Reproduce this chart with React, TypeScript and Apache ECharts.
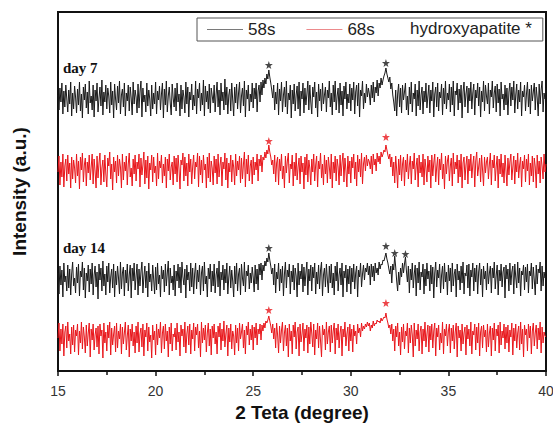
import React, { useEffect, useRef } from "react";
import * as echarts from "echarts";

// 2θ sampling of the patterns (degrees)
const xStart = 15;
const xStep = 0.05;

// Intensities (a.u.), one value per 0.05° from 15° to 40° (20 values per degree)
const day7_58s = [
  45,30,52,38,57,26,49,33,55,41,28,50,36,58,24,47,31,54,43,27,
  51,35,58,29,46,22,53,40,56,32,48,26,59,37,44,30,55,23,50,39,
  57,28,42,53,34,60,25,48,38,55,31,52,44,27,58,35,49,22,56,41,
  30,54,37,59,26,45,51,33,57,24,47,39,55,29,53,42,25,58,36,50,
  43,27,56,32,48,59,23,52,38,45,28,57,34,50,41,24,55,31,47,36,
  58,26,49,40,54,30,46,57,22,51,35,59,28,44,53,37,25,56,42,33,
  52,29,57,38,46,24,55,31,50,43,27,58,36,53,23,48,40,56,30,45,
  34,59,26,51,42,57,29,47,35,60,24,54,38,49,31,56,27,52,44,37,
  55,28,46,58,33,50,25,57,39,48,30,61,35,53,26,45,51,29,57,40,
  24,53,37,56,31,47,58,27,44,52,34,59,23,50,41,55,29,46,38,57,
  32,52,41,57,28,49,55,38,58,45,60,52,62,56,66,61,70,63,57,50,
  42,55,30,48,36,57,25,51,39,58,28,45,53,33,59,26,47,40,55,22,
  50,36,56,29,45,54,31,58,24,49,41,57,27,52,35,46,59,30,55,38,
  26,53,43,58,32,48,23,56,39,51,29,57,36,45,53,28,50,42,59,33,
  47,25,55,38,59,30,44,52,27,57,35,49,24,54,41,58,31,46,37,56,
  29,52,40,58,26,48,55,34,57,23,50,44,59,31,47,37,56,43,52,46,
  35,55,42,58,38,53,47,60,44,57,52,62,55,60,64,67,72,66,62,58,
  63,51,57,45,38,29,50,24,46,56,33,52,27,55,40,48,57,30,44,25,
  53,36,58,28,47,41,56,24,50,34,59,30,45,53,26,49,38,57,32,44,
  55,27,50,39,58,23,46,53,33,57,29,48,42,56,25,52,36,59,31,47,
  40,56,28,53,35,59,24,49,45,57,30,51,37,55,22,48,58,33,46,54,
  27,52,39,58,31,47,56,25,50,42,57,34,53,23,49,38,59,29,55,44,
  36,57,26,50,43,59,32,47,54,28,56,37,51,24,58,41,46,30,55,35,
  52,25,48,57,34,53,40,59,27,45,56,31,50,38,58,24,49,43,55,29,
  46,58,33,51,26,55,39,48,57,30,53,42,24,56,36,50,59,28,47,41,
  52,
];

const day7_68s = [
  40,56,27,50,35,58,25,46,53,31,57,38,49,24,55,33,52,44,29,58,
  36,51,23,55,42,59,30,47,54,26,50,39,57,32,45,58,28,53,41,24,
  56,34,49,59,27,44,52,30,57,38,25,54,46,60,33,48,22,55,40,51,
  29,57,36,53,45,24,58,32,50,41,56,27,48,59,35,44,26,53,38,57,
  31,50,43,58,25,54,37,47,60,28,52,34,56,23,49,42,57,30,55,39,
  46,26,59,33,51,44,57,29,48,36,55,24,53,41,58,32,45,50,27,56,
  38,54,30,57,43,23,52,47,59,31,55,36,49,26,58,40,53,28,46,57,
  33,50,45,59,25,56,37,52,29,57,42,48,24,55,34,59,30,51,44,27,
  56,39,53,28,58,35,47,55,26,50,43,59,32,54,24,49,40,57,30,52,
  45,27,58,36,51,42,56,29,54,33,48,60,25,53,38,57,31,46,52,28,
  55,37,50,42,58,31,53,46,57,40,55,52,60,54,62,58,67,60,55,47,
  52,38,57,30,49,55,27,53,41,58,33,46,24,56,39,51,59,29,48,43,
  57,26,50,36,59,32,45,54,28,56,40,49,23,55,37,58,30,52,44,27,
  53,40,58,31,47,56,25,51,43,59,34,48,27,57,38,52,29,55,45,33,
  58,24,50,39,56,31,53,45,27,57,36,49,59,30,54,42,25,56,38,51,
  29,55,44,58,33,50,26,57,40,53,35,59,28,48,55,41,57,46,53,50,
  43,56,38,58,47,53,41,59,50,56,48,60,55,58,62,60,67,62,57,53,
  58,45,55,36,50,29,56,42,24,53,37,57,31,48,55,26,52,40,58,33,
  47,56,28,51,43,59,32,46,54,25,57,39,50,35,58,27,53,44,30,56,
  40,52,24,57,36,49,58,30,45,55,27,53,42,59,33,48,23,56,38,51,
  57,31,46,54,26,59,38,50,43,57,29,52,35,58,24,49,55,32,47,56,
  28,53,41,58,34,47,56,25,51,60,36,45,54,30,57,42,26,55,39,50,
  55,33,48,59,27,52,44,57,31,46,56,24,53,38,58,35,49,29,57,42,
  26,54,37,50,58,32,45,56,28,52,40,59,34,47,55,25,51,43,57,30,
  53,41,58,27,49,36,56,30,54,45,24,57,38,51,29,55,46,33,58,40,
  48,
];

const day14_58s = [
  48,27,55,36,51,24,58,39,45,30,56,33,52,26,47,59,35,43,28,54,
  38,57,25,50,44,59,31,53,23,48,40,56,29,52,37,58,26,46,55,34,
  49,22,57,41,53,30,60,35,47,26,55,39,58,28,44,52,33,57,24,50,
  36,55,43,27,59,32,48,54,25,51,38,57,30,46,56,23,53,40,58,31,
  45,57,26,52,35,49,59,28,44,55,33,50,24,58,39,47,30,56,42,27,
  54,31,58,37,46,24,55,42,51,29,57,35,48,60,26,53,38,45,31,56,
  25,50,40,57,33,54,28,59,44,36,52,23,56,41,49,30,58,34,53,27,
  47,58,32,51,39,56,26,48,55,30,59,37,45,24,53,42,57,29,50,35,
  57,28,46,53,34,60,25,49,41,56,31,52,38,58,27,44,55,33,51,40,
  24,55,37,58,30,47,53,26,57,43,35,59,29,50,45,56,32,48,38,54,
  44,29,56,37,52,31,57,46,58,41,56,50,60,55,63,59,68,61,55,47,
  53,36,57,28,49,42,58,30,52,38,55,25,47,59,33,51,44,57,27,50,
  39,56,31,53,45,24,58,36,50,42,57,29,54,35,48,59,26,52,40,56,
  30,54,43,58,27,49,37,56,32,51,59,25,46,53,34,57,41,28,55,38,
  57,33,48,26,55,40,59,30,46,53,36,58,24,50,43,56,29,52,37,55,
  27,53,39,57,32,48,55,24,51,44,58,34,47,56,41,53,49,58,46,55,
  36,57,44,55,40,58,48,53,46,59,52,57,56,61,60,64,68,62,58,52,
  47,55,38,57,51,65,54,40,30,49,36,53,44,58,48,57,64,50,39,55,
  28,52,41,58,33,47,56,25,53,38,59,31,49,44,57,27,52,35,58,42,
  50,30,56,37,54,23,48,59,34,51,43,57,28,46,55,32,58,39,49,26,
  56,40,53,29,58,35,47,52,24,57,41,50,31,55,38,59,27,48,45,56,
  33,57,25,51,44,58,30,53,39,56,27,49,58,36,52,24,55,42,50,31,
  58,37,48,55,28,53,43,59,32,46,56,26,51,40,57,34,49,54,23,56,
  42,52,30,58,36,49,55,27,57,44,33,59,38,53,25,50,46,56,31,54,
  39,57,28,50,45,58,32,54,41,26,56,37,52,48,59,30,55,35,49,43,
  51,
];

const day14_68s = [
  43,58,30,52,37,57,25,49,55,33,59,40,47,27,54,36,56,29,51,45,
  57,26,50,38,59,32,54,44,28,56,35,48,58,24,52,41,57,31,46,53,
  34,55,27,57,45,51,23,58,38,49,30,56,43,59,26,53,36,47,55,29,
  58,33,50,42,57,27,54,37,48,59,31,45,56,24,52,40,57,35,49,28,
  55,38,59,29,47,53,34,57,25,51,44,58,30,54,39,46,23,56,41,50,
  26,57,36,52,43,59,28,48,55,32,57,40,50,24,54,37,58,30,47,44,
  53,31,58,39,49,25,56,45,52,34,59,28,47,55,36,57,27,51,42,58,
  30,54,46,57,33,50,24,59,38,53,41,56,29,48,58,35,52,26,55,43,
  57,37,49,27,55,44,58,31,52,40,60,34,47,56,25,53,39,57,32,50,
  45,26,56,38,53,30,58,42,49,57,33,51,27,55,46,59,36,52,41,56,
  31,54,43,58,36,52,47,57,41,56,50,58,53,60,58,61,65,60,55,48,
  57,42,53,33,58,46,28,55,38,51,59,30,48,56,35,53,24,57,40,50,
  27,56,44,59,32,49,54,25,57,39,47,58,30,52,43,56,28,54,37,59,
  48,34,57,26,51,42,58,33,55,40,24,56,46,52,31,59,37,49,55,29,
  56,38,50,58,27,53,41,57,33,48,55,25,52,44,59,35,47,54,30,57,
  40,52,29,56,45,50,37,57,48,53,44,58,50,55,52,57,54,59,55,58,
  50,56,53,60,55,58,57,61,59,60,58,63,60,62,64,63,68,62,58,53,
  56,47,57,40,52,30,55,44,58,35,49,26,54,39,57,32,50,45,58,28,
  53,38,56,46,24,58,35,51,42,57,30,49,55,27,52,40,59,34,47,56,
  29,55,41,57,33,50,58,25,53,44,56,31,48,38,59,27,52,45,57,35,
  50,57,28,53,40,56,32,49,58,24,55,43,51,30,57,37,48,54,26,56,
  42,52,35,59,27,50,46,57,31,54,38,58,25,49,55,33,56,44,51,29,
  57,34,48,55,25,53,41,58,30,52,45,56,28,59,36,50,43,57,32,54,
  38,56,29,51,44,58,26,53,40,57,33,48,55,31,59,37,52,24,56,46,
  52,30,57,43,55,27,50,58,35,48,56,32,53,41,59,28,54,38,49,45,
  44,
];

// vertical stacking offsets of the four patterns
const stackOffsets = [231, 159, 50, -10];

// hydroxyapatite reflections marked with stars: [2θ, height on stacked scale]
const starsDay7_58s = [[25.8, 306], [31.8, 308]];
const starsDay7_68s = [[25.8, 230], [31.8, 234]];
const starsDay14_58s = [[25.8, 123], [31.8, 125], [32.25, 118], [32.8, 117]];
const starsDay14_68s = [[25.8, 61], [31.8, 68]];

const xTickLabels = ["15", "20", "25", "30", "35", "40"];

const BLACK = "#1a1a1a";
const RED = "#e8161b";
const SANS = "'Liberation Sans', Arial, sans-serif";
const SERIF = "'Liberation Serif', 'Times New Roman', serif";
const STAR =
  "path://M0,-10L2.35,-3.24L9.51,-3.09L3.8,1.24L5.88,8.09L0,4L-5.88,8.09L-3.8,1.24L-9.51,-3.09L-2.35,-3.24Z";

function toPairs(vals: number[], off: number) {
  return vals.map((v, i) => [Number((xStart + i * xStep).toFixed(2)), v + off]);
}

function lineSeries(name: string, vals: number[], off: number, color: string) {
  return {
    name,
    type: "line",
    data: toPairs(vals, off),
    symbol: "none",
    showSymbol: false,
    color,
    lineStyle: { width: 1, color },
    silent: true,
  };
}

function starSeries(pts: number[][], color: string) {
  return {
    type: "scatter",
    data: pts,
    symbol: STAR,
    symbolSize: 8,
    itemStyle: { color },
    silent: true,
  };
}

export default function App() {
  const ref = useRef<HTMLDivElement>(null);

  useEffect(() => {
    if (!ref.current) return;
    const chart = echarts.init(ref.current, undefined, { renderer: "svg" });
    chart.setOption({
      animation: false,
      backgroundColor: "#ffffff",
      grid: {
        left: 58,
        right: 7,
        top: 12,
        bottom: 52,
        outerBoundsMode: "none",
        containLabel: false,
        show: true,
        borderColor: "#111",
        borderWidth: 2,
      },
      legend: {
        data: [
          { name: "58s", icon: "rect", itemStyle: { color: "#7a7a7a" } },
          { name: "68s", icon: "rect", itemStyle: { color: "#ec8a8c" } },
        ],
        left: 197,
        top: 18,
        padding: [3, 168, 3, 10],
        itemWidth: 36,
        itemHeight: 1,
        itemGap: 31,
        borderColor: "#555",
        borderWidth: 1,
        textStyle: { fontFamily: SANS, fontSize: 17, color: "#222" },
      },
      xAxis: {
        type: "value",
        min: 15,
        max: 40,
        interval: 5,
        name: "2 Teta (degree)",
        nameLocation: "middle",
        nameGap: 31,
        nameTextStyle: { fontFamily: SANS, fontSize: 19, fontWeight: "bold", color: "#111" },
        axisLine: { show: true, lineStyle: { color: "#111", width: 2 } },
        axisTick: { show: true, inside: false, length: 5, lineStyle: { color: "#111", width: 1.5 } },
        minorTick: { show: true, splitNumber: 2, length: 4, lineStyle: { color: "#111", width: 1.5 } },
        splitLine: { show: false },
        axisLabel: {
          fontFamily: SANS,
          fontSize: 14,
          color: "#333",
          margin: 13,
          formatter: (v: number) => (xTickLabels.includes(String(v)) ? String(v) : ""),
        },
      },
      yAxis: {
        type: "value",
        min: 0,
        max: 359,
        name: "Intensity (a.u.)",
        nameLocation: "middle",
        nameGap: 29,
        nameTextStyle: { fontFamily: SANS, fontSize: 19, fontWeight: "bold", color: "#111" },
        axisLine: { show: true, lineStyle: { color: "#111", width: 2 } },
        axisTick: { show: false },
        axisLabel: { show: false },
        splitLine: { show: false },
      },
      graphic: [
        {
          type: "text",
          left: 410,
          top: 20,
          style: { text: "hydroxyapatite *", fontFamily: SANS, fontSize: 17, fill: "#222" },
        },
        {
          type: "text",
          left: 63,
          top: 60,
          style: { text: "day 7", fontFamily: SERIF, fontSize: 15, fontWeight: "bold", fill: "#111" },
        },
        {
          type: "text",
          left: 63,
          top: 240,
          style: { text: "day 14", fontFamily: SERIF, fontSize: 15, fontWeight: "bold", fill: "#111" },
        },
      ],
      series: [
        lineSeries("58s", day7_58s, stackOffsets[0], BLACK),
        lineSeries("68s", day7_68s, stackOffsets[1], RED),
        lineSeries("58s", day14_58s, stackOffsets[2], BLACK),
        lineSeries("68s", day14_68s, stackOffsets[3], RED),
        starSeries(starsDay7_58s, BLACK),
        starSeries(starsDay7_68s, RED),
        starSeries(starsDay14_58s, BLACK),
        starSeries(starsDay14_68s, RED),
      ],
    });
    return () => chart.dispose();
  }, []);

  return <div ref={ref} style={{ width: 553, height: 423, position: "absolute", left: 0, top: 0 }} />;
}
